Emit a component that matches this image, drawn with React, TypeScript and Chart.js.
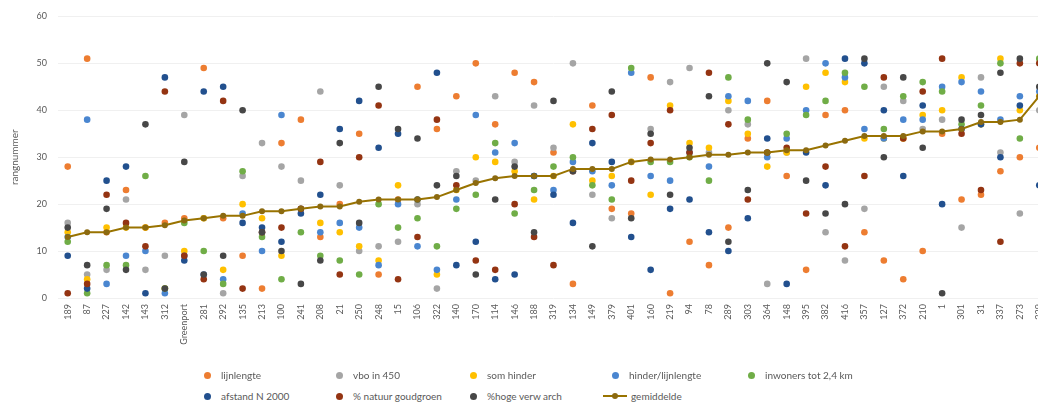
import React, { useEffect, useRef } from "react";
import Chart from "chart.js/auto";

const categories = [
  "189", "87", "227", "142", "143", "312", "Greenport", "281", "292", "135",
  "213", "100", "241", "208", "21", "250", "248", "15", "106", "322",
  "140", "170", "114", "146", "188", "319", "134", "149", "379", "401",
  "160", "219", "94", "78", "289", "303", "364", "148", "395", "382",
  "416", "357", "127", "372", "210", "1", "301", "31", "337", "273", "329",
];

const lijnlengte = [28, 51, 14, 23, 15, 16, 17, 49, 17, 9, 2, 33, 38, 13, 20, 35, 5, 21, 45, 36, 43, 50, 37, 48, 46, 31, 3, 41, 19, 18, 47, 1, 12, 7, 15, 34, 42, 26, 6, 39, 40, 14, 8, 4, 10, 35, 21, 22, 27, 30, 32];
const vboIn450 = [16, 5, 6, 21, 6, 9, 39, 17, 1, 26, 33, 28, 25, 44, 24, 10, 11, 12, 20, 2, 27, 25, 43, 29, 41, 32, 50, 22, 17, 29, 36, 46, 49, 31, 40, 37, 3, 31, 51, 14, 8, 19, 45, 42, 36, 38, 15, 47, 31, 18, 40];
const somHinder = [14, 4, 15, 15, 15, 2, 10, 17, 6, 20, 17, 9, 19, 16, 14, 11, 8, 24, 21, 5, 23, 30, 29, 27, 21, 26, 37, 25, 26, 29, 22, 41, 33, 32, 42, 35, 28, 31, 45, 48, 46, 34, 34, 34, 39, 40, 47, 37, 51, 40, 43];
const hinderLijnlengte = [13, 38, 3, 9, 10, 1, 9, 5, 4, 18, 10, 39, 19, 14, 16, 15, 7, 20, 11, 6, 21, 39, 31, 33, 26, 23, 29, 27, 24, 48, 26, 25, 31, 28, 43, 42, 30, 34, 40, 50, 47, 36, 34, 38, 38, 45, 46, 44, 38, 43, 44];
const inwoners24 = [12, 1, 7, 7, 26, 2, 16, 10, 3, 27, 13, 4, 14, 9, 8, 5, 20, 15, 17, 11, 19, 22, 33, 18, 23, 28, 30, 24, 21, 49, 29, 29, 30, 25, 47, 38, 31, 35, 39, 42, 48, 45, 36, 43, 46, 44, 37, 41, 50, 34, 51];
const afstandN2000 = [9, 2, 25, 28, 1, 47, 8, 44, 45, 16, 15, 12, 18, 22, 36, 42, 32, 35, 21, 48, 7, 12, 4, 5, 26, 22, 16, 33, 29, 13, 6, 19, 21, 14, 10, 17, 34, 3, 31, 24, 51, 50, 40, 26, 41, 20, 36, 37, 30, 41, 24];
const natuurGoudgroen = [1, 3, 22, 16, 11, 44, 9, 4, 42, 2, 14, 15, 19, 29, 5, 30, 41, 4, 13, 38, 24, 8, 6, 20, 13, 7, 27, 36, 39, 25, 33, 40, 31, 48, 37, 21, 31, 32, 18, 28, 11, 26, 47, 34, 44, 51, 35, 23, 12, 50, 50];
const hogeVerwArch = [15, 7, 19, 6, 37, 2, 29, 5, 9, 40, 14, 10, 3, 8, 33, 16, 45, 36, 34, 24, 26, 5, 21, 28, 14, 42, 27, 11, 44, 17, 35, 22, 32, 43, 12, 23, 50, 46, 25, 18, 20, 51, 30, 47, 32, 1, 38, 39, 48, 51, 45];
const gemiddelde = [13, 14, 14, 15, 15, 15.5, 16.5, 17, 17.5, 17.5, 18.5, 18.5, 19, 19.5, 19.5, 20.5, 21, 21, 21, 21.5, 23, 24.5, 25.5, 26, 26, 26, 27.5, 27.5, 27.5, 29, 29.5, 29.5, 30, 30.5, 30.5, 31, 31, 31.5, 31.5, 32.5, 33.5, 34.5, 34.5, 34.5, 35.5, 35.5, 36, 37.5, 37.5, 38, 43];

const yTicks = [0, 10, 20, 30, 40, 50, 60];

const seriesLabels = [
  "lijnlengte", "vbo in 450", "som hinder", "hinder/lijnlengte", "inwoners tot 2,4 km",
  "afstand N 2000", "% natuur goudgroen", "%hoge verw arch",
];
const seriesData = [lijnlengte, vboIn450, somHinder, hinderLijnlengte, inwoners24, afstandN2000, natuurGoudgroen, hogeVerwArch];
const seriesColors = ["#ED7D31", "#A5A5A5", "#FFC000", "#4A86D0", "#70AD47", "#22508E", "#943412", "#474747"];
const lineLabel = "gemiddelde";
const lineColor = "#997300";

const FONT = "Lato, 'Open Sans', sans-serif";
const TEXT = "#595959";

export default function App() {
  const ref = useRef<HTMLCanvasElement>(null);

  useEffect(() => {
    if (!ref.current) return;
    const datasets: any[] = seriesData.map((d, i) => ({
      type: "line",
      label: seriesLabels[i],
      data: d,
      showLine: false,
      borderColor: seriesColors[i],
      backgroundColor: seriesColors[i],
      pointBackgroundColor: seriesColors[i],
      pointBorderColor: seriesColors[i],
      pointBorderWidth: 0,
      pointRadius: 3.3,
      order: 20 - i,
    }));
    datasets.push({
      type: "line",
      label: lineLabel,
      data: gemiddelde,
      borderColor: lineColor,
      backgroundColor: lineColor,
      borderWidth: 2,
      pointRadius: 3,
      pointBackgroundColor: "#8C6A10",
      pointBorderColor: "#8C6A10",
      pointBorderWidth: 0,
      tension: 0,
      order: 1,
    });

    const chart = new Chart(ref.current, {
      type: "line",
      data: { labels: categories, datasets },
      options: {
        animation: false,
        responsive: false,
        layout: { padding: { top: 15, right: 11, bottom: 0, left: 0 } },
        plugins: { legend: { display: false }, tooltip: { enabled: false } },
        scales: {
          x: {
            type: "category",
            offset: true,
            grid: { display: false, drawTicks: false },
            border: { display: false },
            ticks: {
              autoSkip: false,
              minRotation: 90,
              maxRotation: 90,
              padding: 6,
              color: TEXT,
              font: { family: FONT, size: 9 },
            },
            afterFit: (s: any) => { s.height = 72; },
          },
          y: {
            min: yTicks[0],
            max: yTicks[yTicks.length - 1],
            afterBuildTicks: (s: any) => { s.ticks = yTicks.map((v) => ({ value: v })); },
            ticks: { padding: 11, color: TEXT, font: { family: FONT, size: 9 } },
            grid: { color: "#F0F0F0", drawTicks: false },
            border: { display: false },
            title: {
              display: true,
              text: "rangnummer",
              color: TEXT,
              font: { family: FONT, size: 10 },
              padding: { top: 9, bottom: 0 },
            },
            afterFit: (s: any) => { s.width = 58; },
          },
        },
      } as any,
    });
    return () => chart.destroy();
  }, []);

  const cols = [207, 339, 473, 615, 751];
  const rows = [375, 396];
  const legendItems = [
    ...seriesLabels.map((l, i) => ({ label: l, color: seriesColors[i], line: false })),
    { label: lineLabel, color: lineColor, line: true },
  ];

  return (
    <div style={{ position: "fixed", left: 0, top: 0, width: 1038, height: 410, overflow: "hidden", background: "#fff" }}>
      <canvas ref={ref} width={1060} height={370} style={{ position: "absolute", left: 0, top: 0, width: 1060, height: 370 }} />
      {legendItems.map((it, i) => {
        const x = cols[i % 5];
        const y = rows[Math.floor(i / 5)];
        return (
          <div key={it.label} style={{ position: "absolute", left: x - 14, top: y - 8, height: 16, display: "flex", alignItems: "center", fontFamily: FONT, fontSize: 10, color: TEXT, whiteSpace: "nowrap" }}>
            {it.line ? (
              <span style={{ position: "relative", width: 24, height: 16, marginLeft: 2, marginRight: 4 }}>
                <span style={{ position: "absolute", left: 0, top: 7, width: 24, height: 2, background: it.color }} />
                <span style={{ position: "absolute", left: 9, top: 5, width: 6, height: 6, borderRadius: 3, background: "#8C6A10" }} />
              </span>
            ) : (
              <span style={{ display: "inline-block", width: 28, height: 16, position: "relative" }}>
                <span style={{ position: "absolute", left: 11, top: 5, width: 6.5, height: 6.5, borderRadius: 4, background: it.color }} />
              </span>
            )}
            <span>{it.label}</span>
          </div>
        );
      })}
    </div>
  );
}
